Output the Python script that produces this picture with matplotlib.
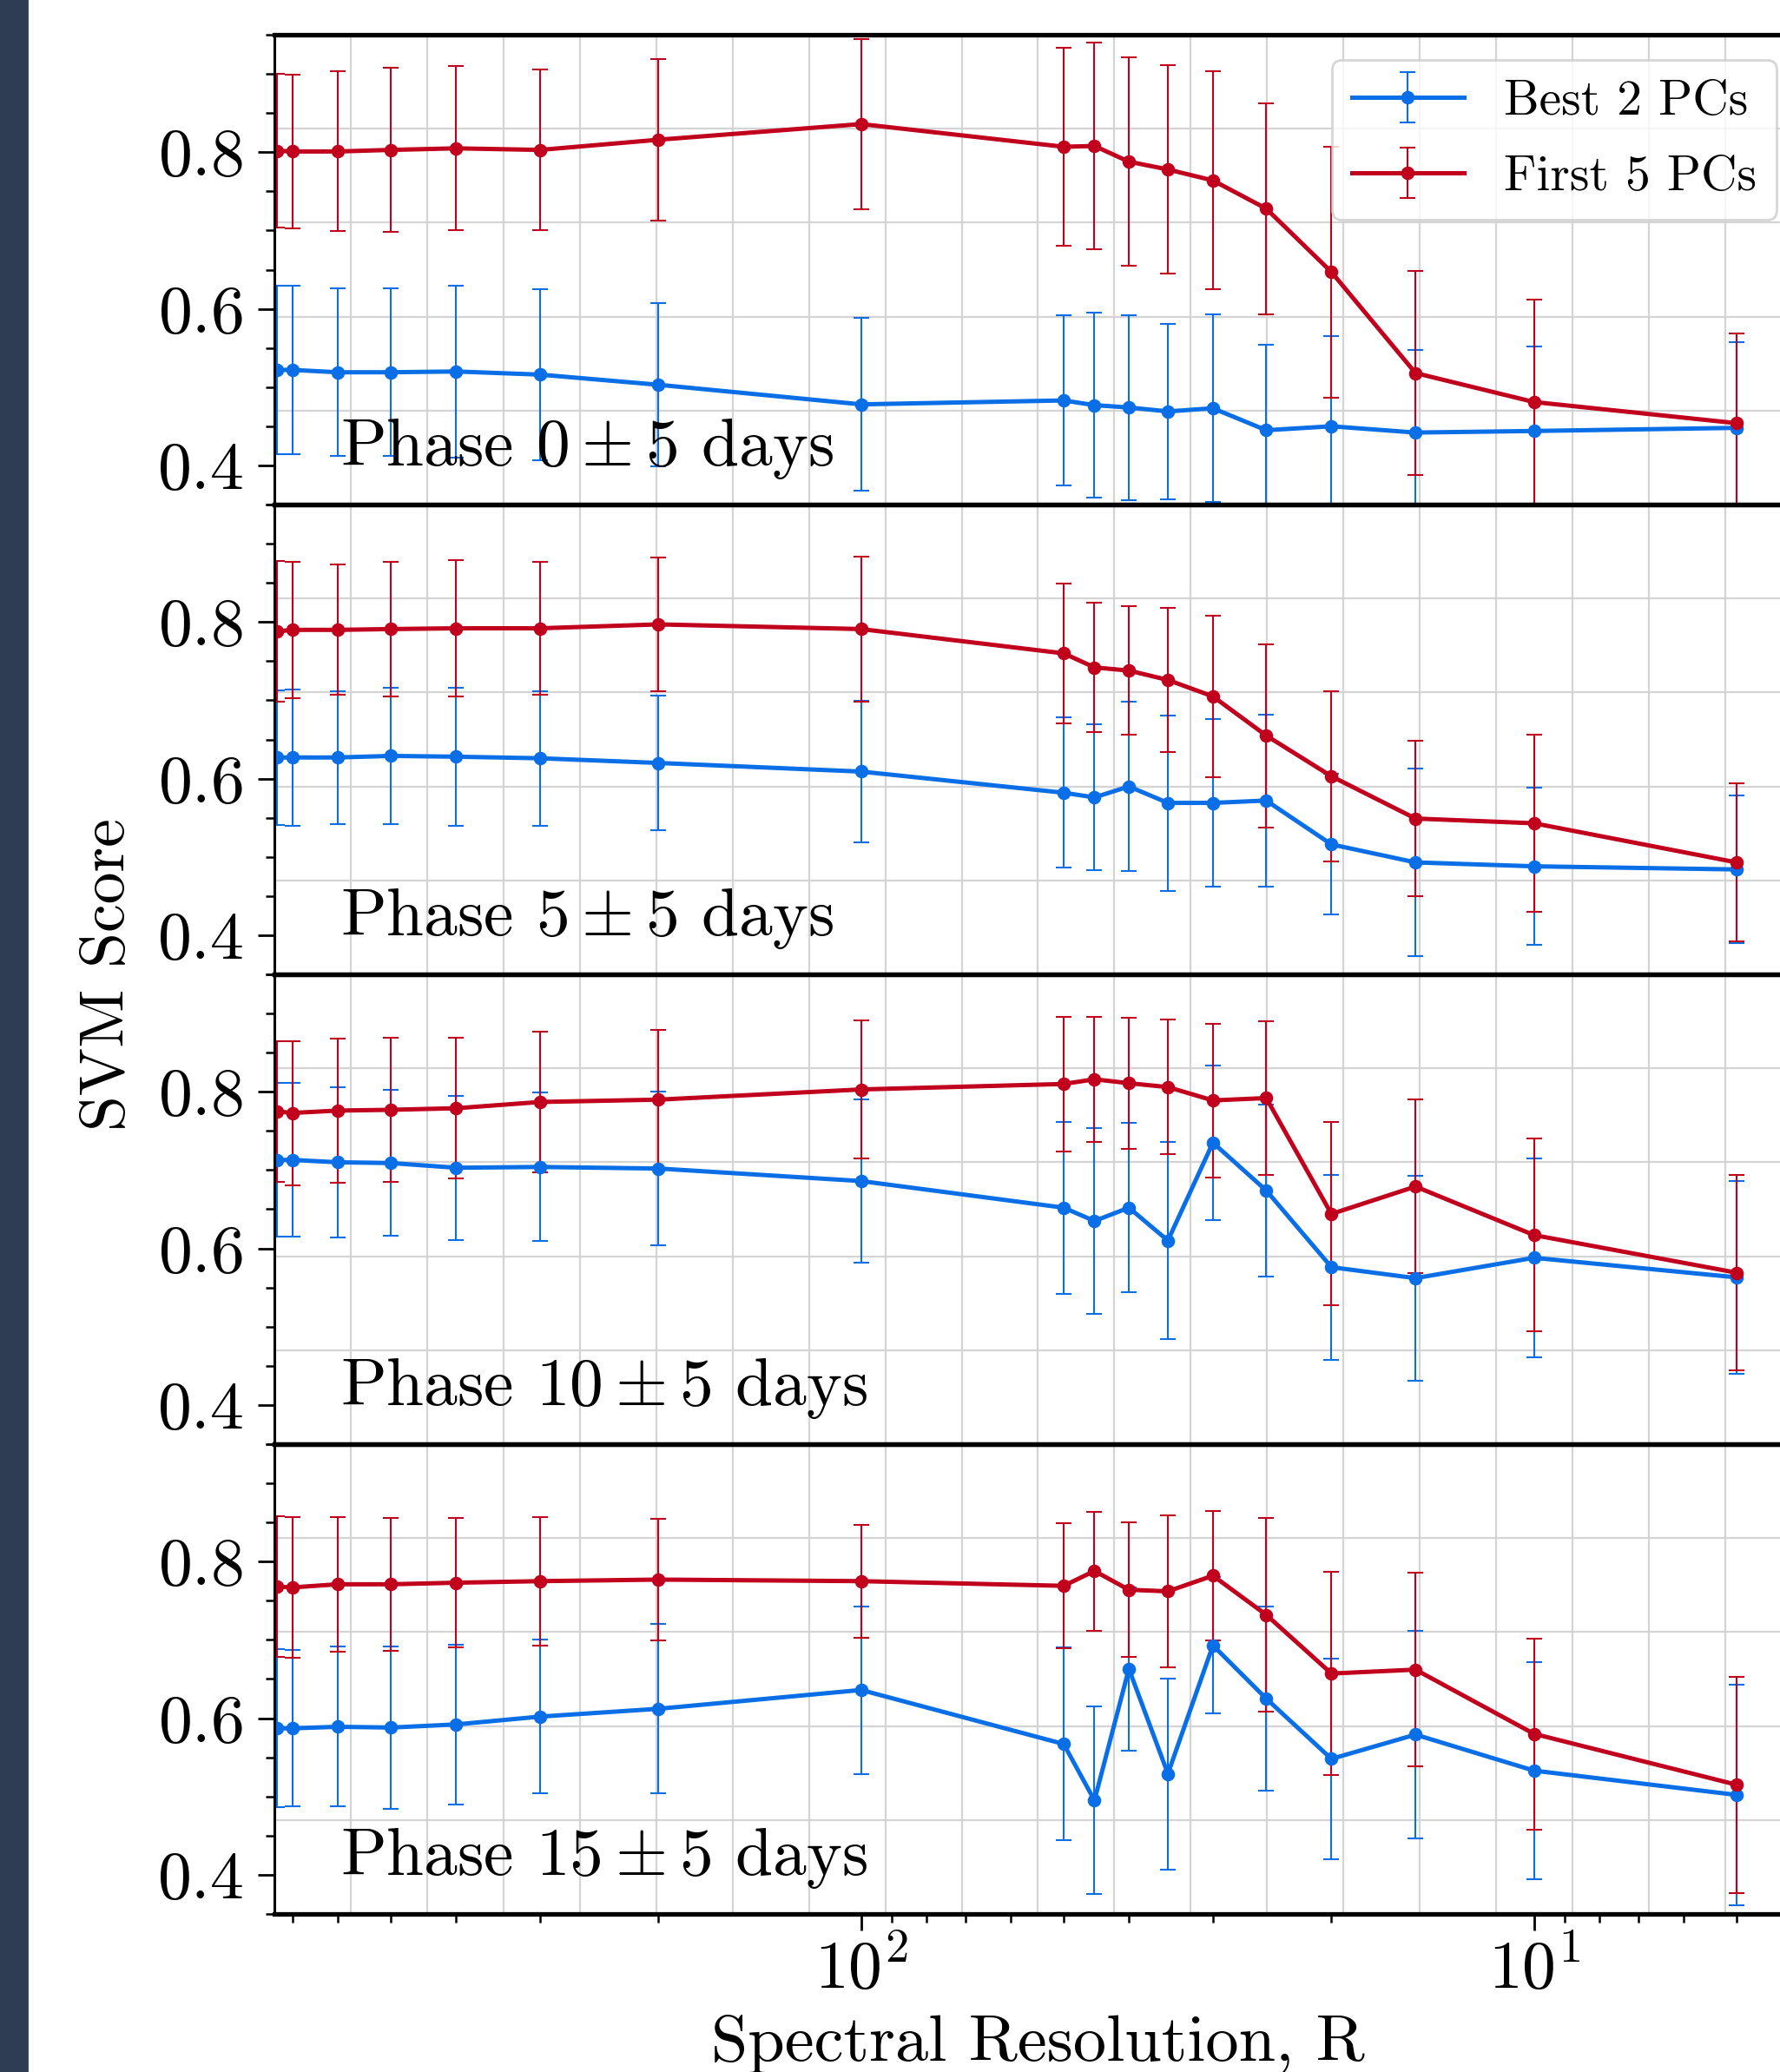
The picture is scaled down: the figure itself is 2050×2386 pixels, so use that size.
import numpy as np
import matplotlib
matplotlib.use('Agg')
import matplotlib.pyplot as plt
from matplotlib.ticker import MultipleLocator, LogLocator, NullFormatter
from matplotlib.patches import Rectangle

plt.rcParams['font.family'] = 'serif'
plt.rcParams['font.serif'] = ['cmr10']
plt.rcParams['mathtext.fontset'] = 'cm'
plt.rcParams['axes.formatter.use_mathtext'] = True

# spectral resolution of each point
resolution = [738, 700, 600, 500, 400, 300, 200, 100, 50, 45, 40, 35, 30, 25, 20, 15, 10, 5]

phase_labels = [r'Phase $0 \pm 5$ days', r'Phase $5 \pm 5$ days',
                r'Phase $10 \pm 5$ days', r'Phase $15 \pm 5$ days']

# Best 2 PCs
best2_p0 = [0.522, 0.522, 0.519, 0.519, 0.520, 0.516, 0.503, 0.478, 0.483, 0.477, 0.474, 0.469, 0.473, 0.445, 0.450, 0.442, 0.444, 0.448]
best2_err_p0 = [0.108, 0.108, 0.107, 0.107, 0.110, 0.109, 0.104, 0.110, 0.109, 0.118, 0.118, 0.112, 0.120, 0.109, 0.115, 0.106, 0.108, 0.109]
best2_p5 = [0.627, 0.627, 0.627, 0.629, 0.628, 0.626, 0.620, 0.609, 0.582, 0.576, 0.590, 0.569, 0.569, 0.572, 0.516, 0.493, 0.488, 0.484]
best2_err_p5 = [0.086, 0.087, 0.085, 0.087, 0.088, 0.086, 0.086, 0.090, 0.096, 0.093, 0.108, 0.112, 0.107, 0.110, 0.090, 0.120, 0.100, 0.094]
best2_p10 = [0.713, 0.713, 0.710, 0.709, 0.703, 0.704, 0.702, 0.686, 0.652, 0.635, 0.652, 0.610, 0.735, 0.674, 0.576, 0.562, 0.588, 0.563]
best2_err_p10 = [0.098, 0.098, 0.096, 0.093, 0.092, 0.095, 0.098, 0.104, 0.110, 0.119, 0.108, 0.126, 0.099, 0.110, 0.118, 0.131, 0.127, 0.123]
best2_p15 = [0.587, 0.587, 0.589, 0.588, 0.592, 0.602, 0.612, 0.636, 0.567, 0.495, 0.663, 0.529, 0.693, 0.625, 0.548, 0.579, 0.533, 0.502]
best2_err_p15 = [0.101, 0.100, 0.102, 0.104, 0.102, 0.098, 0.108, 0.107, 0.123, 0.120, 0.104, 0.122, 0.087, 0.118, 0.128, 0.133, 0.139, 0.141]

# First 5 PCs
first5_p0 = [0.802, 0.801, 0.801, 0.803, 0.805, 0.803, 0.816, 0.836, 0.807, 0.808, 0.788, 0.778, 0.764, 0.728, 0.647, 0.518, 0.481, 0.454]
first5_err_p0 = [0.098, 0.098, 0.102, 0.105, 0.105, 0.103, 0.103, 0.109, 0.126, 0.132, 0.133, 0.133, 0.139, 0.135, 0.160, 0.130, 0.131, 0.114]
first5_p5 = [0.788, 0.790, 0.790, 0.791, 0.792, 0.792, 0.797, 0.791, 0.760, 0.742, 0.738, 0.726, 0.705, 0.655, 0.603, 0.549, 0.543, 0.493]
first5_err_p5 = [0.090, 0.087, 0.083, 0.086, 0.087, 0.085, 0.085, 0.093, 0.089, 0.083, 0.082, 0.092, 0.103, 0.117, 0.109, 0.099, 0.113, 0.101]
first5_p10 = [0.775, 0.773, 0.776, 0.777, 0.779, 0.787, 0.790, 0.803, 0.810, 0.816, 0.811, 0.806, 0.789, 0.792, 0.644, 0.679, 0.617, 0.569]
first5_err_p10 = [0.090, 0.092, 0.092, 0.092, 0.090, 0.090, 0.089, 0.088, 0.086, 0.080, 0.084, 0.086, 0.098, 0.098, 0.117, 0.111, 0.123, 0.125]
first5_p15 = [0.768, 0.767, 0.771, 0.771, 0.773, 0.775, 0.777, 0.775, 0.769, 0.788, 0.764, 0.762, 0.782, 0.732, 0.657, 0.662, 0.580, 0.515]
first5_err_p15 = [0.090, 0.090, 0.086, 0.085, 0.083, 0.082, 0.078, 0.072, 0.080, 0.076, 0.086, 0.097, 0.083, 0.124, 0.130, 0.124, 0.122, 0.138]

best2 = [best2_p0, best2_p5, best2_p10, best2_p15]
best2_err = [best2_err_p0, best2_err_p5, best2_err_p10, best2_err_p15]
first5 = [first5_p0, first5_p5, first5_p10, first5_p15]
first5_err = [first5_err_p0, first5_err_p5, first5_err_p10, first5_err_p15]

blue = '#0a6fe6'
red = '#c0001c'


def draw_panel(fig, ax, i):
    # plain grid sits on its own axes behind the data
    gax = fig.add_axes(ax.get_position(), zorder=-1)
    gax.set_xlim(0, 1)
    gax.set_ylim(0, 1)
    gax.set_xticks(np.linspace(0, 1, 21))
    gax.set_yticks(np.linspace(0, 1, 6))
    gax.grid(True, color='#d4d4d4', lw=0.8)
    gax.tick_params(length=0, labelbottom=False, labelleft=False)
    for s in gax.spines.values():
        s.set_visible(False)
    ax.patch.set_visible(False)

    style = dict(marker='o', ms=4.6, lw=1.8, elinewidth=0.75, capsize=3.3, capthick=0.75)
    ax.errorbar(resolution, best2[i], yerr=best2_err[i], color=blue, label='Best 2 PCs', **style)
    ax.errorbar(resolution, first5[i], yerr=first5_err[i], color=red, label='First 5 PCs', **style)

    ax.text(0.043, 0.4, phase_labels[i], transform=ax.get_yaxis_transform(),
            fontsize=27.9, va='baseline', ha='left')

    ax.set_ylim(0.35, 0.95)
    ax.yaxis.set_major_locator(MultipleLocator(0.2))
    ax.yaxis.set_minor_locator(MultipleLocator(0.05))
    ax.tick_params(axis='y', which='major', direction='out', length=7, width=1, labelsize=28, pad=6)
    ax.tick_params(axis='y', which='minor', direction='out', length=3.5, width=0.9)
    ax.spines['right'].set_visible(False)
    ax.spines['left'].set_linewidth(1.1)
    ax.spines['top'].set_linewidth(1.9)
    ax.spines['bottom'].set_linewidth(1.9)


fig, axes = plt.subplots(4, 1, sharex=True, figsize=(10.25, 11.93), dpi=200)
fig.subplots_adjust(left=0.1541, right=1.0122, top=0.9832, bottom=0.0763, hspace=0)

for i, ax in enumerate(axes):
    draw_panel(fig, ax, i)
    if i < 3:
        ax.tick_params(axis='x', which='both', bottom=False, labelbottom=False)

ax = axes[-1]
ax.set_xscale('log')
ax.set_xlim(745, 4)
ax.xaxis.set_major_locator(LogLocator(base=10))
ax.xaxis.set_minor_locator(LogLocator(base=10, subs=np.arange(2, 10)))
ax.xaxis.set_minor_formatter(NullFormatter())
ax.tick_params(axis='x', which='major', direction='out', length=7, width=1, labelsize=28, pad=3)
ax.tick_params(axis='x', which='minor', direction='out', length=3.5, width=0.9)

axes[0].legend(loc='upper right', fontsize=20.7, handlelength=2.25, labelspacing=0.62,
               framealpha=0.8)

fig.text(0.061, 0.5298, 'SVM Score', rotation=90, fontsize=26.5, ha='center', va='center')
fig.text(0.583, 0.0055, 'Spectral Resolution, R', fontsize=27.5, ha='center', va='baseline')

# dark strip on the left edge of the screenshot
fig.patches.append(Rectangle((0, 0), 31 / 2050, 1, transform=fig.transFigure,
                             color='#2e3d52', zorder=-5))

fig.savefig('out.png', dpi=200)
